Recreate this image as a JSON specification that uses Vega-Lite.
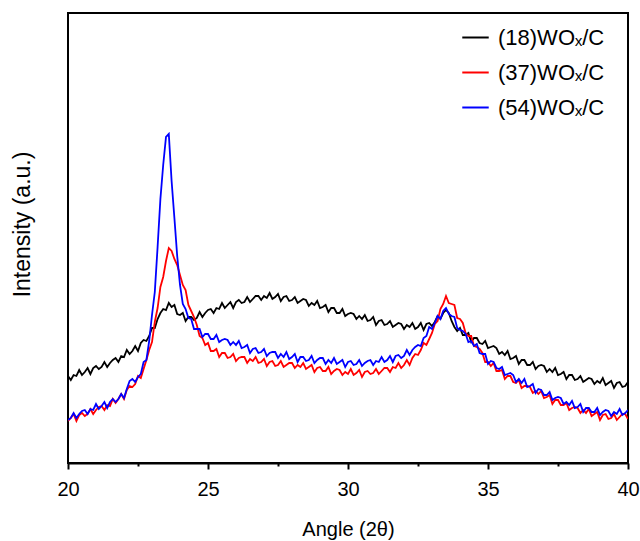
{
  "$schema": "https://vega.github.io/schema/vega-lite/v6.json",
  "width": 560,
  "height": 450,
  "autosize": {"type": "none"},
  "padding": {"left": 68, "top": 13, "right": 12, "bottom": 78},
  "background": "white",
  "config": {
    "view": {"stroke": "black", "strokeWidth": 2},
    "font": "Liberation Sans"
  },
  "data": {"values": [
{"a":20.0,"k":87,"r":42,"b":43},{"a":20.1,"k":83,"r":45,"b":45},{"a":20.2,"k":88,"r":49,"b":50},{"a":20.3,"k":87,"r":42,"b":45},{"a":20.4,"k":93,"r":48,"b":49},
{"a":20.5,"k":88,"r":50,"b":52},{"a":20.6,"k":91,"r":47,"b":53},{"a":20.7,"k":95,"r":49,"b":49},{"a":20.8,"k":89,"r":54,"b":54},{"a":20.9,"k":95,"r":49,"b":53},
{"a":21.0,"k":97,"r":53,"b":59},{"a":21.1,"k":94,"r":56,"b":54},{"a":21.2,"k":96,"r":57,"b":57},{"a":21.3,"k":101,"r":53,"b":61},{"a":21.4,"k":96,"r":58,"b":55},
{"a":21.5,"k":100,"r":57,"b":61},{"a":21.6,"k":103,"r":64,"b":64},{"a":21.7,"k":105,"r":60,"b":61},{"a":21.8,"k":101,"r":64,"b":64},{"a":21.9,"k":107,"r":69,"b":69},
{"a":22.0,"k":106,"r":64,"b":65},{"a":22.1,"k":113,"r":73,"b":74},{"a":22.2,"k":109,"r":77,"b":82},{"a":22.3,"k":112,"r":76,"b":84},{"a":22.4,"k":117,"r":79,"b":81},
{"a":22.5,"k":112,"r":87,"b":86},{"a":22.6,"k":120,"r":85,"b":89},{"a":22.7,"k":123,"r":94,"b":101},{"a":22.8,"k":122,"r":103,"b":103},{"a":22.9,"k":127,"r":113,"b":122},
{"a":23.0,"k":135,"r":121,"b":148},{"a":23.1,"k":135,"r":141,"b":171},{"a":23.2,"k":144,"r":155,"b":216},{"a":23.3,"k":150,"r":176,"b":264},{"a":23.4,"k":154,"r":186,"b":298},
{"a":23.5,"k":153,"r":202,"b":326},{"a":23.6,"k":160,"r":215,"b":329},{"a":23.7,"k":156,"r":212,"b":282},{"a":23.8,"k":158,"r":204,"b":245},{"a":23.9,"k":149,"r":198,"b":207},
{"a":24.0,"k":148,"r":188,"b":178},{"a":24.1,"k":150,"r":178,"b":159},{"a":24.2,"k":142,"r":173,"b":154},{"a":24.3,"k":146,"r":158,"b":145},{"a":24.4,"k":146,"r":152,"b":144},
{"a":24.5,"k":143,"r":146,"b":134},{"a":24.6,"k":145,"r":138,"b":134},{"a":24.7,"k":151,"r":127,"b":134},{"a":24.8,"k":146,"r":125,"b":126},{"a":24.9,"k":150,"r":118,"b":129},
{"a":25.0,"k":153,"r":120,"b":129},{"a":25.1,"k":154,"r":112,"b":124},{"a":25.2,"k":150,"r":112,"b":124},{"a":25.3,"k":155,"r":114,"b":128},{"a":25.4,"k":154,"r":106,"b":121},
{"a":25.5,"k":160,"r":110,"b":123},{"a":25.6,"k":155,"r":110,"b":124},{"a":25.7,"k":158,"r":105,"b":123},{"a":25.8,"k":161,"r":106,"b":118},{"a":25.9,"k":155,"r":109,"b":121},
{"a":26.0,"k":161,"r":102,"b":118},{"a":26.1,"k":163,"r":105,"b":122},{"a":26.2,"k":160,"r":106,"b":115},{"a":26.3,"k":161,"r":106,"b":116},{"a":26.4,"k":166,"r":100,"b":118},
{"a":26.5,"k":161,"r":104,"b":110},{"a":26.6,"k":164,"r":102,"b":114},{"a":26.7,"k":167,"r":106,"b":115},{"a":26.8,"k":167,"r":100,"b":110},{"a":26.9,"k":163,"r":101,"b":111},
{"a":27.0,"k":167,"r":104,"b":114},{"a":27.1,"k":165,"r":97,"b":107},{"a":27.2,"k":170,"r":101,"b":110},{"a":27.3,"k":164,"r":102,"b":111},{"a":27.4,"k":166,"r":97,"b":111},
{"a":27.5,"k":169,"r":98,"b":105},{"a":27.6,"k":162,"r":102,"b":109},{"a":27.7,"k":166,"r":96,"b":106},{"a":27.8,"k":167,"r":98,"b":111},{"a":27.9,"k":162,"r":100,"b":104},
{"a":28.0,"k":163,"r":100,"b":106},{"a":28.1,"k":166,"r":95,"b":109},{"a":28.2,"k":160,"r":98,"b":101},{"a":28.3,"k":162,"r":96,"b":106},{"a":28.4,"k":164,"r":100,"b":106},
{"a":28.5,"k":163,"r":94,"b":102},{"a":28.6,"k":157,"r":96,"b":103},{"a":28.7,"k":160,"r":98,"b":107},{"a":28.8,"k":158,"r":91,"b":100},{"a":28.9,"k":162,"r":95,"b":103},
{"a":29.0,"k":155,"r":96,"b":105},{"a":29.1,"k":156,"r":92,"b":105},{"a":29.2,"k":158,"r":92,"b":99},{"a":29.3,"k":151,"r":96,"b":103},{"a":29.4,"k":155,"r":89,"b":100},
{"a":29.5,"k":155,"r":92,"b":105},{"a":29.6,"k":150,"r":94,"b":99},{"a":29.7,"k":150,"r":93,"b":101},{"a":29.8,"k":154,"r":88,"b":103},{"a":29.9,"k":147,"r":91,"b":96},
{"a":30.0,"k":149,"r":89,"b":101},{"a":30.1,"k":150,"r":94,"b":102},{"a":30.2,"k":149,"r":88,"b":98},{"a":30.3,"k":144,"r":90,"b":99},{"a":30.4,"k":147,"r":93,"b":103},
{"a":30.5,"k":144,"r":86,"b":97},{"a":30.6,"k":148,"r":91,"b":100},{"a":30.7,"k":142,"r":92,"b":102},{"a":30.8,"k":143,"r":89,"b":103},{"a":30.9,"k":146,"r":90,"b":98},
{"a":31.0,"k":138,"r":94,"b":102},{"a":31.1,"k":142,"r":89,"b":101},{"a":31.2,"k":143,"r":92,"b":106},{"a":31.3,"k":138,"r":95,"b":101},{"a":31.4,"k":139,"r":95,"b":103},
{"a":31.5,"k":142,"r":91,"b":107},{"a":31.6,"k":136,"r":96,"b":101},{"a":31.7,"k":138,"r":95,"b":107},{"a":31.8,"k":140,"r":100,"b":108},{"a":31.9,"k":139,"r":95,"b":105},
{"a":32.0,"k":134,"r":98,"b":107},{"a":32.1,"k":138,"r":103,"b":113},{"a":32.2,"k":136,"r":98,"b":108},{"a":32.3,"k":140,"r":105,"b":113},{"a":32.4,"k":134,"r":109,"b":116},
{"a":32.5,"k":136,"r":108,"b":118},{"a":32.6,"k":140,"r":113,"b":117},{"a":32.7,"k":133,"r":120,"b":125},{"a":32.8,"k":139,"r":118,"b":127},{"a":32.9,"k":140,"r":124,"b":136},
{"a":33.0,"k":137,"r":130,"b":134},{"a":33.1,"k":141,"r":139,"b":140},{"a":33.2,"k":147,"r":142,"b":147},{"a":33.3,"k":144,"r":154,"b":144},{"a":33.4,"k":150,"r":159,"b":152},
{"a":33.5,"k":153,"r":167,"b":155},{"a":33.6,"k":150,"r":160,"b":149},{"a":33.7,"k":142,"r":159,"b":147},{"a":33.8,"k":136,"r":158,"b":146},{"a":33.9,"k":132,"r":145,"b":135},
{"a":34.0,"k":135,"r":144,"b":133},{"a":34.1,"k":128,"r":140,"b":132},{"a":34.2,"k":128,"r":130,"b":129},{"a":34.3,"k":130,"r":127,"b":121},{"a":34.4,"k":121,"r":127,"b":122},
{"a":34.5,"k":125,"r":117,"b":117},{"a":34.6,"k":125,"r":116,"b":119},{"a":34.7,"k":120,"r":114,"b":110},{"a":34.8,"k":119,"r":110,"b":109},{"a":34.9,"k":122,"r":101,"b":109},
{"a":35.0,"k":115,"r":101,"b":99},{"a":35.1,"k":116,"r":97,"b":102},{"a":35.2,"k":117,"r":100,"b":101},{"a":35.3,"k":115,"r":92,"b":95},{"a":35.4,"k":109,"r":92,"b":94},
{"a":35.5,"k":111,"r":93,"b":96},{"a":35.6,"k":108,"r":84,"b":88},{"a":35.7,"k":112,"r":87,"b":89},{"a":35.8,"k":104,"r":87,"b":90},{"a":35.9,"k":105,"r":81,"b":88},
{"a":36.0,"k":107,"r":80,"b":81},{"a":36.1,"k":99,"r":83,"b":84},{"a":36.2,"k":103,"r":75,"b":80},{"a":36.3,"k":103,"r":77,"b":84},{"a":36.4,"k":98,"r":77,"b":76},
{"a":36.5,"k":98,"r":76,"b":77},{"a":36.6,"k":101,"r":70,"b":79},{"a":36.7,"k":94,"r":72,"b":70},{"a":36.8,"k":97,"r":69,"b":74},{"a":36.9,"k":98,"r":72,"b":73},
{"a":37.0,"k":97,"r":65,"b":68},{"a":37.1,"k":91,"r":66,"b":68},{"a":37.2,"k":94,"r":68,"b":71},{"a":37.3,"k":91,"r":59,"b":63},{"a":37.4,"k":95,"r":63,"b":65},
{"a":37.5,"k":88,"r":63,"b":66},{"a":37.6,"k":89,"r":58,"b":65},{"a":37.7,"k":91,"r":58,"b":59},{"a":37.8,"k":84,"r":60,"b":61},{"a":37.9,"k":88,"r":53,"b":58},
{"a":38.0,"k":88,"r":55,"b":62},{"a":38.1,"k":83,"r":56,"b":55},{"a":38.2,"k":84,"r":55,"b":56},{"a":38.3,"k":87,"r":50,"b":59},{"a":38.4,"k":81,"r":53,"b":51},
{"a":38.5,"k":83,"r":50,"b":55},{"a":38.6,"k":85,"r":54,"b":55},{"a":38.7,"k":84,"r":47,"b":51},{"a":38.8,"k":79,"r":49,"b":51},{"a":38.9,"k":82,"r":51,"b":55},
{"a":39.0,"k":80,"r":43,"b":48},{"a":39.1,"k":85,"r":48,"b":51},{"a":39.2,"k":78,"r":49,"b":53},{"a":39.3,"k":80,"r":44,"b":52},{"a":39.4,"k":82,"r":45,"b":47},
{"a":39.5,"k":75,"r":49,"b":51},{"a":39.6,"k":80,"r":43,"b":49},{"a":39.7,"k":81,"r":46,"b":54},{"a":39.8,"k":76,"r":49,"b":48},{"a":39.9,"k":77,"r":49,"b":50},
{"a":40.0,"k":81,"r":44,"b":53}
  ]},
  "transform": [{"fold": ["k", "r", "b"], "as": ["s", "v"]}],
  "mark": {"type": "line", "strokeWidth": 1.8, "clip": true},
  "encoding": {
    "x": {
      "field": "a", "type": "quantitative",
      "scale": {"domain": [20, 40], "nice": false, "zero": false},
      "axis": {
        "title": "Angle (2θ)",
        "values": [20, 22.5, 25, 27.5, 30, 32.5, 35, 37.5, 40],
        "labelExpr": "datum.value % 5 == 0 ? datum.label : ''",
        "tickSize": {"condition": {"test": "datum.value % 5 == 0", "value": 6}, "value": 3},
        "tickWidth": 2, "tickColor": "black",
        "domainColor": "black", "domainWidth": 2,
        "grid": false,
        "labelFontSize": 20, "labelColor": "black", "labelPadding": 10, "labelFlush": false,
        "titleFontSize": 20, "titleFontWeight": "normal", "titleColor": "black", "titlePadding": 20
      }
    },
    "y": {
      "field": "v", "type": "quantitative",
      "scale": {"domain": [0, 450], "nice": false},
      "axis": {
        "title": "Intensity (a.u.)",
        "labels": false, "ticks": false, "domain": false, "grid": false,
        "titleFontSize": 23, "titleFontWeight": "normal", "titleColor": "black", "titlePadding": 34,
        "titleY": 211
      }
    },
    "color": {
      "field": "s", "type": "nominal",
      "scale": {"domain": ["k", "r", "b"], "range": ["#000000", "#ff0000", "#0000ff"]},
      "legend": {
        "title": null,
        "orient": "none",
        "legendX": 393,
        "legendY": 10,
        "labelExpr": "datum.label == 'k' ? '(18)WOₓ/C' : datum.label == 'r' ? '(37)WOₓ/C' : '(54)WOₓ/C'",
        "labelFontSize": 22, "labelColor": "black", "labelOffset": 8,
        "symbolType": "stroke", "symbolSize": 700, "symbolStrokeWidth": 2,
        "rowPadding": 9
      }
    }
  }
}
